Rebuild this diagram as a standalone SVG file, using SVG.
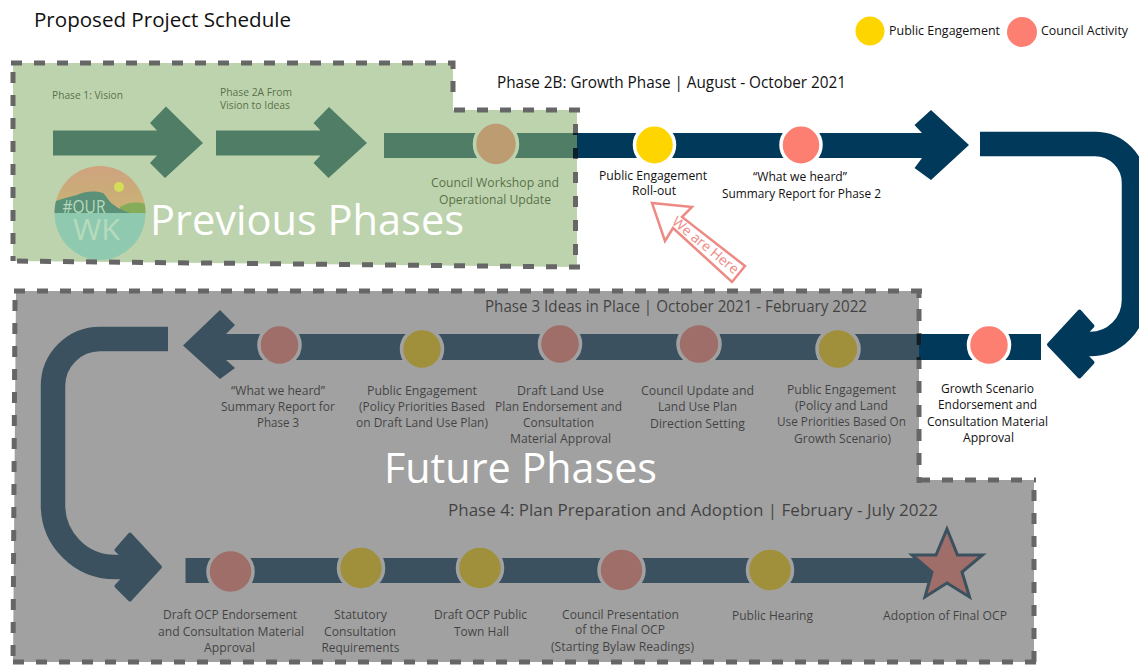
<svg xmlns="http://www.w3.org/2000/svg" width="1139" height="665" viewBox="0 0 1139 665">
<style>
text{font-family:"Open Sans","Noto Sans","Liberation Sans",sans-serif;fill:#111;font-size:12px}
.b{fill:#00395a}
.r{fill:#00395a;stroke:#00395a;stroke-width:4;stroke-linejoin:round}
.s{fill:none;stroke:#00395a;stroke-width:24.500}
.y{fill:#ffd500;stroke:#fff;stroke-width:3.500}
.c{fill:#fd7f72;stroke:#fff;stroke-width:3.500}
.t{font-size:16px}
.w{fill:#fff;font-size:42px}
.border{fill:none;stroke:#666;stroke-width:5;stroke-dasharray:11 12}
.pale{fill:#b6dabb}
.dark{fill:#0c1f2b}
</style>
<defs>
<clipPath id="lc"><ellipse cx="100" cy="213" rx="45.500" ry="47"/></clipPath>
<linearGradient id="sky" x1="0" y1="0" x2="0" y2="1"><stop offset="0" stop-color="#cfa080"/><stop offset="1" stop-color="#c8b474"/></linearGradient>
</defs>
<rect width="1139" height="665" fill="#fff"/>
<g id="connectors">
<polygon class="b" points="53,130.500 157,130.500 150,123 166,106.500 203,143 165,178 150,163 157,155.500 53,155.500"/>
<polygon class="b" points="216,130.500 320.500,130.500 313.500,123 329,107 367,143 328.500,178 313.500,163 320.500,155.500 216,155.500"/>
<polygon class="b" points="384,133 922,133 914.500,125 931,110 969,145 931,180 914.500,168 922,158 384,158"/>
<path class="s" d="M980,144 H1095 A39,39 0 0 1 1134,183 V300 A44,44 0 0 1 1090,344 H1075"/>
<polygon class="b" points="1041,334 226,334 235,325 220,310 183,345.500 220,379 235,368 226,360 1041,360"/>
<polygon class="r" points="1049,344.500 1079.500,311.500 1092.500,326 1086,333 1086,356 1092.500,362.500 1079.500,376.500"/>
<path class="s" d="M168,339 H100 A47,47 0 0 0 53,386 V505 A62,62 0 0 0 115,567 H132"/>
<polygon class="r" points="160,567 130,534.500 116.500,550 123,556 123,579 116.500,586 130,599.500"/>
<rect class="b" x="185.500" y="558" width="745" height="25"/>
</g>
<g id="title"><text x="34" y="27" style="font-size:20px" textLength="257" lengthAdjust="spacingAndGlyphs">Proposed Project Schedule</text></g>
<g id="legend">
<circle cx="870" cy="31" r="14.500" fill="#ffd500"/>
<text x="889" y="35" textLength="111" lengthAdjust="spacingAndGlyphs">Public Engagement</text>
<circle cx="1022" cy="32" r="15" fill="#fd7f72"/>
<text x="1041" y="35" textLength="87" lengthAdjust="spacingAndGlyphs">Council Activity</text>
</g>
<g id="phase-labels">
<text class="t" x="497" y="88" textLength="349" lengthAdjust="spacingAndGlyphs">Phase 2B: Growth Phase |  August - October 2021</text>
<text class="t" x="485" y="312" textLength="382" lengthAdjust="spacingAndGlyphs">Phase 3 Ideas in Place | October 2021 - February 2022</text>
<text class="t" x="448" y="516" textLength="490" lengthAdjust="spacingAndGlyphs">Phase 4: Plan Preparation and Adoption | February - July 2022</text>
<text style="font-size:10px" x="52" y="99" textLength="71" lengthAdjust="spacingAndGlyphs">Phase 1: Vision</text>
<text style="font-size:10px" x="220" y="96" textLength="72" lengthAdjust="spacingAndGlyphs">Phase 2A From</text>
<text style="font-size:10px" x="220" y="109" textLength="70" lengthAdjust="spacingAndGlyphs">Vision to Ideas</text>
</g>
<g id="node-council-workshop">
<ellipse class="c" cx="496" cy="144" rx="21.500" ry="22"/>
<text x="431" y="187" textLength="128" lengthAdjust="spacingAndGlyphs">Council Workshop and</text>
<text x="439" y="204" textLength="112" lengthAdjust="spacingAndGlyphs">Operational Update</text>
</g>
<g id="node-rollout">
<ellipse class="y" cx="654.500" cy="145" rx="20" ry="20.200"/>
<text x="599" y="180" textLength="108" lengthAdjust="spacingAndGlyphs">Public Engagement</text>
<text x="632" y="195" textLength="44" lengthAdjust="spacingAndGlyphs">Roll-out</text>
</g>
<g id="node-heard-2">
<ellipse class="c" cx="801" cy="145" rx="20" ry="20.200"/>
<text x="753" y="181" textLength="94" lengthAdjust="spacingAndGlyphs">“What we heard”</text>
<text x="722" y="198" textLength="159" lengthAdjust="spacingAndGlyphs">Summary Report for Phase 2</text>
</g>
<g id="we-are-here">
<polygon points="652,203 692,207 682,217 745,266 732,282 673,228 665,241" fill="#fff" stroke="#ee8a84" stroke-width="2.500"/>
<text x="705" y="250" text-anchor="middle" transform="rotate(39 705 246)" style="font-size:14px;fill:#ee8a84">We are Here</text>
</g>
<g id="node-growth">
<ellipse class="c" cx="989" cy="345" rx="20.500" ry="20.500"/>
<text x="941" y="393" textLength="93" lengthAdjust="spacingAndGlyphs">Growth Scenario</text>
<text x="938" y="409" textLength="99" lengthAdjust="spacingAndGlyphs">Endorsement and</text>
<text x="927" y="426" textLength="121" lengthAdjust="spacingAndGlyphs">Consultation Material</text>
<text x="963" y="442" textLength="51" lengthAdjust="spacingAndGlyphs">Approval</text>
</g>
<g id="node-pe-land">
<ellipse class="y" cx="838" cy="349" rx="21" ry="20.500"/>
<text x="787" y="394" textLength="109" lengthAdjust="spacingAndGlyphs">Public Engagement</text>
<text x="795" y="410" textLength="93" lengthAdjust="spacingAndGlyphs">(Policy and Land</text>
<text x="777" y="426" textLength="129" lengthAdjust="spacingAndGlyphs">Use Priorities Based On</text>
<text x="794" y="443" textLength="97" lengthAdjust="spacingAndGlyphs">Growth Scenario)</text>
</g>
<g id="node-council-update">
<ellipse class="c" cx="699" cy="344" rx="21" ry="20.500"/>
<text x="641" y="395" textLength="113" lengthAdjust="spacingAndGlyphs">Council Update and</text>
<text x="658" y="411" textLength="79" lengthAdjust="spacingAndGlyphs">Land Use Plan</text>
<text x="650" y="428" textLength="95" lengthAdjust="spacingAndGlyphs">Direction Setting</text>
</g>
<g id="node-draft-land">
<ellipse class="c" cx="560" cy="344" rx="20.500" ry="20.500"/>
<text x="517" y="395" textLength="87" lengthAdjust="spacingAndGlyphs">Draft Land Use</text>
<text x="495" y="411" textLength="127" lengthAdjust="spacingAndGlyphs">Plan Endorsement and</text>
<text x="523" y="427" textLength="71" lengthAdjust="spacingAndGlyphs">Consultation</text>
<text x="510" y="443" textLength="101" lengthAdjust="spacingAndGlyphs">Material Approval</text>
</g>
<g id="node-pe-policy">
<ellipse class="y" cx="422" cy="349" rx="20.500" ry="20.500"/>
<text x="367" y="395" textLength="110" lengthAdjust="spacingAndGlyphs">Public Engagement</text>
<text x="359" y="411" textLength="126" lengthAdjust="spacingAndGlyphs">(Policy Priorities Based</text>
<text x="356" y="427" textLength="132" lengthAdjust="spacingAndGlyphs">on Draft Land Use Plan)</text>
</g>
<g id="node-heard-3">
<ellipse class="c" cx="279.500" cy="345" rx="20.500" ry="20.500"/>
<text x="231" y="395" textLength="94" lengthAdjust="spacingAndGlyphs">“What we heard”</text>
<text x="221" y="411" textLength="114" lengthAdjust="spacingAndGlyphs">Summary Report for</text>
<text x="257" y="427" textLength="42" lengthAdjust="spacingAndGlyphs">Phase 3</text>
</g>
<g id="node-draft-ocp">
<ellipse class="c" cx="230.500" cy="571.500" rx="22.500" ry="22"/>
<text x="163" y="619" textLength="134" lengthAdjust="spacingAndGlyphs">Draft OCP Endorsement</text>
<text x="158" y="636" textLength="146" lengthAdjust="spacingAndGlyphs">and Consultation Material</text>
<text x="204" y="652" textLength="51" lengthAdjust="spacingAndGlyphs">Approval</text>
</g>
<g id="node-statutory">
<ellipse class="y" cx="361" cy="568" rx="22.500" ry="22"/>
<text x="334" y="619" textLength="53" lengthAdjust="spacingAndGlyphs">Statutory</text>
<text x="324" y="636" textLength="72" lengthAdjust="spacingAndGlyphs">Consultation</text>
<text x="321.500" y="652" textLength="78" lengthAdjust="spacingAndGlyphs">Requirements</text>
</g>
<g id="node-town-hall">
<ellipse class="y" cx="480" cy="568" rx="22.500" ry="22"/>
<text x="434" y="619" textLength="93" lengthAdjust="spacingAndGlyphs">Draft OCP Public</text>
<text x="454" y="636" textLength="55" lengthAdjust="spacingAndGlyphs">Town Hall</text>
</g>
<g id="node-presentation">
<ellipse class="c" cx="621.500" cy="570" rx="22.500" ry="22"/>
<text x="562" y="619" textLength="117" lengthAdjust="spacingAndGlyphs">Council Presentation</text>
<text x="575" y="634" textLength="90" lengthAdjust="spacingAndGlyphs">of the Final OCP</text>
<text x="551" y="651" textLength="143" lengthAdjust="spacingAndGlyphs">(Starting Bylaw Readings)</text>
</g>
<g id="node-hearing">
<ellipse class="y" cx="770" cy="570" rx="22.500" ry="22"/>
<text x="732" y="620" textLength="81" lengthAdjust="spacingAndGlyphs">Public Hearing</text>
</g>
<g id="node-adoption">
<polygon points="947,529 957.500,555 982.500,555 962,572 969.500,597 947,583 925,597 932,572 912,555 936,555" fill="#fd7f72" stroke="#00395a" stroke-width="3"/>
<text x="883" y="620" textLength="124" lengthAdjust="spacingAndGlyphs">Adoption of Final OCP</text>
</g>
<g id="region-previous">
<polygon points="13,63 453,63 453,110 577,110 577,267 13,261" fill="rgb(139,177,111)" fill-opacity=".57"/>
</g>
<g id="region-future">
<polygon points="16,291 919,291 919,480 1034,480 1034,662 13,662" fill="#626262" fill-opacity=".6"/>
</g>
<g id="logo" clip-path="url(#lc)">
<rect x="50" y="160" width="100" height="53" fill="url(#sky)"/>
<circle cx="119" cy="187" r="5" fill="#d5dc58"/>
<path d="M120,213 V207 C127,203 135,200 150,205 V213Z" fill="#86ab59"/>
<path d="M50,213 V203 C60,199 70,197 77,195 C84,192 92,190 103,193 C108,198 110,203 114,205 C119,209 124,211 130,213Z" fill="#5a9178"/>
<rect x="50" y="213" width="100" height="50" fill="#8fcab0"/>
</g>
<g id="logo-text">
<text class="pale" x="62.500" y="213" style="font-size:18px" textLength="43" lengthAdjust="spacingAndGlyphs">#OUR</text>
<text class="pale" x="73" y="240" style="font-size:29px" textLength="47" lengthAdjust="spacingAndGlyphs">WK</text>
</g>
<g id="region-titles">
<text class="w" x="150" y="235" textLength="314" lengthAdjust="spacingAndGlyphs">Previous Phases</text>
<text class="w" x="384" y="483" textLength="273" lengthAdjust="spacingAndGlyphs">Future Phases</text>
</g>
<g id="borders">
<path class="border" d="M11,63 H453 V100"/>
<path class="border" d="M580,110 H453"/>
<path class="border" d="M575.500,124 V267" style="stroke-dasharray:11 13"/>
<path class="border" d="M580,267 L11,261"/>
<path class="border" d="M13,72 V261"/>
<path class="border" d="M14,291 H922"/>
<path class="border" d="M919,309 V483" style="stroke-dasharray:12 12"/>
<path class="border" d="M919,291 V298"/>
<path class="border" d="M919,480 H1036"/>
<path class="border" d="M1034,490 V662"/>
<path class="border" d="M1036,662 H13"/>
<path class="border" d="M15,300 L13,662"/>
<rect class="dark" x="573" y="148" width="5" height="10"/>
<rect class="dark" x="573" y="133" width="5" height="2"/>
<rect class="dark" x="916.500" y="334" width="5" height="11"/>
<rect class="dark" x="916.500" y="357" width="5" height="3"/>
</g>
</svg>
